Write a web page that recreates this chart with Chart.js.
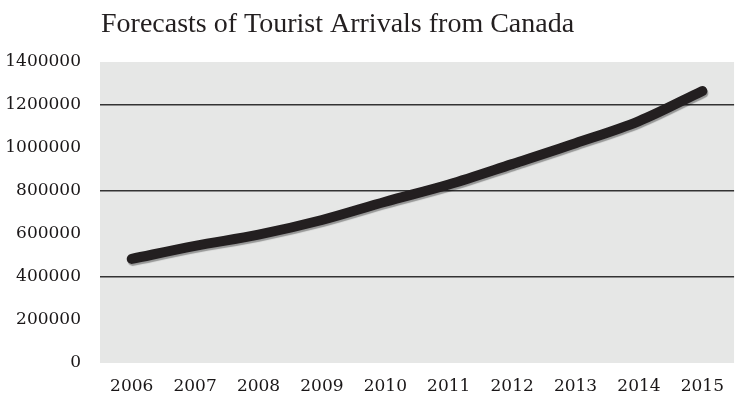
<!DOCTYPE html>
<html>
<head>
<meta charset="utf-8">
<script src="https://cdn.jsdelivr.net/npm/chart.js@4"></script>
<style>
  html, body { margin: 0; padding: 0; background: #fff; }
  #wrap { width: 737px; height: 399px; }
</style>
</head>
<body>
<div id="wrap"><canvas id="chart" width="737" height="399"></canvas></div>
<script>
// Forecasts of tourist arrivals from Canada

const chartTitle = 'Forecasts of Tourist Arrivals from Canada';
const years = ['2006','2007','2008','2009','2010','2011','2012','2013','2014','2015'];
const arrivals = [484000, 545000, 597000, 665000, 750000, 830000, 925000, 1022000, 1125000, 1265000];
const yTicks = [0, 200000, 400000, 600000, 800000, 1000000, 1200000, 1400000];
const gridValues = [400000, 800000, 1200000];

const serif = "'DejaVu Serif', serif";

const plotBg = {
  id: 'plotBg',
  beforeDraw(chart){
    const a = chart.chartArea, ctx = chart.ctx;
    ctx.save();
    ctx.fillStyle = '#e6e7e6';
    ctx.fillRect(a.left, a.top, a.right - a.left, a.bottom - a.top);
    ctx.restore();
  }
};

const lineShadow = {
  id: 'lineShadow',
  beforeDatasetsDraw(chart){
    const ctx = chart.ctx;
    ctx.save();
    ctx.shadowColor = 'rgba(0,0,0,0.35)';
    ctx.shadowOffsetX = 1;
    ctx.shadowOffsetY = 2;
    ctx.shadowBlur = 1;
  },
  afterDatasetsDraw(chart){ chart.ctx.restore(); }
};

const leftTitle = {
  id: 'leftTitle',
  afterDraw(chart){
    const ctx = chart.ctx;
    ctx.save();
    ctx.font = "28px 'Liberation Serif', serif";
    ctx.fillStyle = '#231f20';
    ctx.textBaseline = 'alphabetic';
    ctx.textAlign = 'left';
    ctx.fillText(chartTitle, 101, 32);
    ctx.restore();
  }
};

new Chart(document.getElementById('chart'), {
  type: 'line',
  data: {
    labels: years,
    datasets: [{
      data: arrivals,
      borderColor: '#231f20',
      borderWidth: 10,
      borderCapStyle: 'round',
      borderJoinStyle: 'round',
      pointRadius: 0,
      cubicInterpolationMode: 'monotone',
      fill: false
    }]
  },
  options: {
    responsive: false,
    animation: false,
    layout: { padding: { top: 62, left: 0, right: 0, bottom: 0 } },
    plugins: { legend: { display: false }, tooltip: { enabled: false }, title: { display: false } },
    scales: {
      x: {
        offset: true,
        grid: { display: false, drawTicks: false },
        border: { display: false },
        ticks: { color: '#1a1718', font: { family: serif, size: 17 }, padding: 13, maxRotation: 0 },
        afterFit(s){ s.height = 36; }
      },
      y: {
        min: 0, max: 1400000,
        afterBuildTicks(s){ s.ticks = yTicks.map(v => ({ value: v })); },
        grid: {
          drawTicks: false,
          color: c => gridValues.includes(c.tick.value) ? '#333' : 'rgba(0,0,0,0)',
          lineWidth: 1.5
        },
        border: { display: false },
        ticks: { color: '#1a1718', font: { family: serif, size: 17 }, padding: 19, callback: v => String(v) },
        afterFit(s){ s.width = 100; }
      }
    }
  },
  plugins: [plotBg, lineShadow, leftTitle]
});
</script>
</body>
</html>
